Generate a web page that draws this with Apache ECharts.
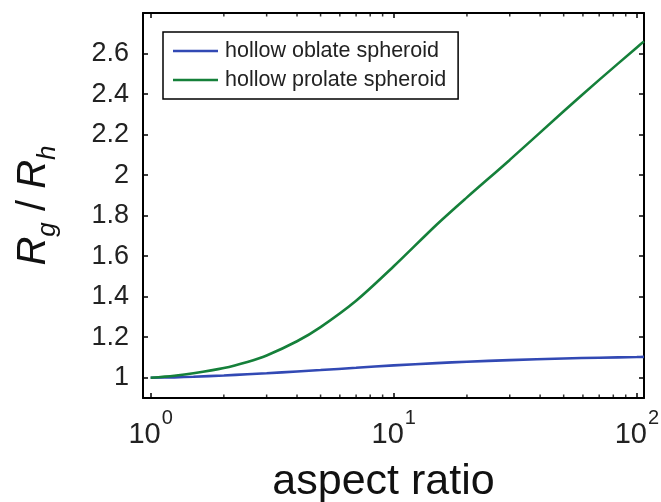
<!DOCTYPE html>
<html>
<head>
<meta charset="utf-8">
<script src="https://cdn.jsdelivr.net/npm/echarts@6/dist/echarts.min.js"></script>
<style>
html,body{margin:0;padding:0;background:#fff;}
#chart{width:661px;height:502px;}
</style>
</head>
<body>
<div id="chart"></div>
<script>
// ---- data ----
const seriesNames = ['hollow oblate spheroid', 'hollow prolate spheroid'];
const aspectRatio = [1, 1.25, 1.5, 2, 2.5, 3, 4, 5, 7, 10, 15, 20, 30, 50, 70, 100, 107];
const oblateValues = [1.000, 1.002, 1.005, 1.011, 1.017, 1.022, 1.031, 1.038, 1.049, 1.061, 1.072, 1.079, 1.087, 1.095, 1.099, 1.102, 1.103];
const prolateValues = [1.000, 1.010, 1.022, 1.048, 1.078, 1.110, 1.180, 1.250, 1.380, 1.550, 1.755, 1.890, 2.075, 2.315, 2.470, 2.630, 2.660];
const xTickExponents = [0, 1, 2];
const xMinorTicks = [2, 3, 4, 5, 6, 7, 8, 9, 20, 30, 40, 50, 60, 70, 80, 90];
const yTickLabels = [1, 1.2, 1.4, 1.6, 1.8, 2, 2.2, 2.4, 2.6];
const xMin = 0.93, xMax = 107;
const yMin = 0.9, yMax = 2.8;

const FONT = '"Liberation Sans", Arial, Helvetica, sans-serif';
const chart = echarts.init(document.getElementById('chart'), null, {renderer: 'canvas'});

function pairs(xs, ys) { return xs.map((x, i) => [x, ys[i]]); }

function xLabel(v) {
  const e = Math.log10(v);
  const r = Math.round(e);
  if (Math.abs(e - r) < 1e-6 && xTickExponents.indexOf(r) >= 0) {
    return '{b|10}{s|' + r + '}';
  }
  return '';
}
function yLabel(v) {
  for (const t of yTickLabels) if (Math.abs(t - v) < 1e-6) return String(t);
  return '';
}

const axisLineStyle = {color: '#000', width: 2};
const xAxisBase = {
  type: 'log', logBase: 10, min: xMin, max: xMax,
  axisLine: {show: true, onZero: false, lineStyle: axisLineStyle},
  axisTick: {show: true, inside: true, length: 5, lineStyle: {color: '#000', width: 1.5}},
  splitLine: {show: false},
  minorTick: {show: false}
};
const yAxisBase = {
  type: 'value', min: yMin, max: yMax, splitNumber: 10,
  axisLine: {show: true, onZero: false, lineStyle: axisLineStyle},
  axisTick: {show: true, inside: true, length: 5, lineStyle: {color: '#000', width: 1.5}},
  splitLine: {show: false}
};

const tickSeries = (yv, offset, name) => ({
  type: 'scatter', name: name, silent: true, clip: false,
  symbol: 'rect', symbolSize: [1.5, 3.5], symbolOffset: [0, offset],
  itemStyle: {color: '#000'},
  data: xMinorTicks.map(v => [v, yv]), z: 5
});

chart.setOption({
  animation: false,
  backgroundColor: '#fff',
  grid: {left: 143, right: 17, top: 13, bottom: 104, containLabel: false, outerBoundsMode: 'none'},
  legend: {
    data: seriesNames, orient: 'vertical', left: 163, top: 32,
    padding: [8, 12, 8, 10], itemGap: 7, itemWidth: 45, itemHeight: 2.5, icon: 'rect',
    borderColor: '#000', borderWidth: 1.5, borderRadius: 0, backgroundColor: '#fff',
    textStyle: {fontSize: 21.5, color: '#222', fontFamily: FONT, padding: [0, 0, 0, 2]}
  },
  xAxis: [
    Object.assign({}, xAxisBase, {
      position: 'bottom',
      axisLabel: {
        formatter: xLabel, margin: 10, color: '#222', fontFamily: FONT,
        showMinLabel: true, showMaxLabel: true, hideOverlap: false,
        rich: {
          b: {fontSize: 29, fontFamily: FONT, color: '#222'},
          s: {fontSize: 20, fontFamily: FONT, color: '#222', verticalAlign: 'top', padding: [0, 0, 34, 1]}
        }
      },
      name: 'aspect ratio', nameLocation: 'middle', nameGap: 63,
      nameTextStyle: {fontSize: 43, color: '#111', fontFamily: FONT, padding: [0, 20, 0, 0]}
    }),
    Object.assign({}, xAxisBase, {position: 'top', axisLabel: {show: false}})
  ],
  yAxis: [
    Object.assign({}, yAxisBase, {
      position: 'left',
      axisLabel: {formatter: yLabel, margin: 14, fontSize: 27, color: '#222', fontFamily: FONT, showMinLabel: true, showMaxLabel: true},
      name: '{i|R}{sub|g}{n| / }{i|R}{sub|h}', nameLocation: 'middle', nameRotate: 90, nameGap: 82,
      nameTextStyle: {
        fontFamily: FONT, color: '#111',
        rich: {
          i: {fontSize: 40, fontStyle: 'italic', fontFamily: FONT, color: '#111', padding: [0, 0, 7, 0]},
          n: {fontSize: 40, fontFamily: FONT, color: '#111', padding: [0, 0, 7, 0]},
          sub: {fontSize: 26, fontStyle: 'italic', fontFamily: FONT, color: '#111', verticalAlign: 'bottom'}
        }
      }
    }),
    Object.assign({}, yAxisBase, {position: 'right', axisLabel: {show: false}})
  ],
  series: [
    {
      name: seriesNames[0], type: 'line', xAxisIndex: 0, yAxisIndex: 0,
      data: pairs(aspectRatio, oblateValues), smooth: 0.3, showSymbol: false, symbol: 'none',
      lineStyle: {color: '#3249b4', width: 2.6}, itemStyle: {color: '#3249b4'}, z: 3
    },
    {
      name: seriesNames[1], type: 'line', xAxisIndex: 0, yAxisIndex: 0,
      data: pairs(aspectRatio, prolateValues), smooth: 0.3, showSymbol: false, symbol: 'none',
      lineStyle: {color: '#15803a', width: 2.6}, itemStyle: {color: '#15803a'}, z: 4
    },
    tickSeries(yMin, -1.75, 'minorBottom'),
    tickSeries(yMax, 1.75, 'minorTop')
  ]
});
</script>
</body>
</html>
